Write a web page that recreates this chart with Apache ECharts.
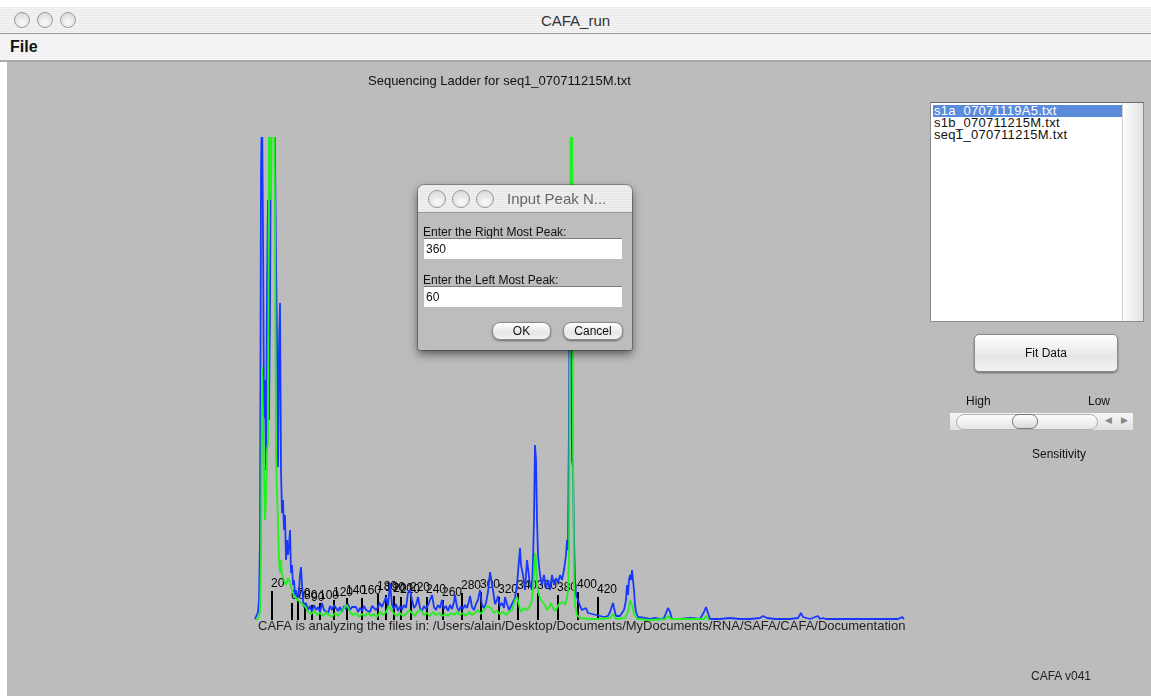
<!DOCTYPE html>
<html>
<head>
<meta charset="utf-8">
<title>CAFA_run</title>
<script src="https://cdn.jsdelivr.net/npm/echarts@6/dist/echarts.min.js"></script>
<style>
  body { margin: 0; width: 1151px; height: 696px; background: #fff; overflow: hidden; position: relative;
    font-family: "Liberation Sans", Arial, sans-serif; }
  .titlebar { position: absolute; left: 0; top: 7px; width: 1151px; height: 26px;
    background: repeating-linear-gradient(#eaeaea 0 1px, #f4f4f4 1px 2px); border-bottom: 1px solid #9c9c9c; }
  .titlebar .name { position: absolute; left: 0; width: 1151px; top: 5px; text-align: center; font-size: 15px; color: #333; }
  .dot { position: absolute; width: 14px; height: 14px; border-radius: 50%; border: 1px solid #9a9a9a;
    background: radial-gradient(circle at 50% 70%, #fafafa, #d4d4d4); }
  .menubar { position: absolute; left: 0; top: 34px; width: 1151px; height: 26px;
    background: repeating-linear-gradient(#efefef 0 1px, #f7f7f7 1px 2px); border-bottom: 2px solid #a8a8a8; }
  .menubar span { position: absolute; left: 10px; top: 4px; font-size: 16px; font-weight: bold; color: #111; }
  .pane { position: absolute; left: 7px; top: 62px; width: 1144px; height: 634px; background: #bcbcbc; }
  #chart { position: absolute; left: 0; top: 0; width: 1151px; height: 696px; z-index: 1; }
  .ui { position: absolute; z-index: 2; font-size: 12px; color: #111; }
  .list { left: 930px; top: 102px; width: 212px; height: 218px; background: #fff; border: 1px solid #8d8d8d; border-top-color: #6a6a6a; }
  .list .row { position: absolute; left: 2px; height: 12px; line-height: 12px; width: 189px; padding-left: 1px;
    font-size: 13px; letter-spacing: 0.3px; }
  .list .sel { background: #5b8bdb; color: #fff; }
  .list .scroll { position: absolute; right: 0; top: 0; width: 20px; height: 218px;
    background: linear-gradient(90deg, #fdfdfd, #e2e2e2); border-left: 1px solid #d0d0d0; }
  .btn { border: 1px solid #8a8a8a; border-radius: 5px; background: linear-gradient(#ffffff, #e6e6e6 60%, #f2f2f2);
    box-shadow: 0 1px 2px rgba(0,0,0,0.45); text-align: center; }
  .slider { left: 950px; top: 413px; width: 183px; height: 17px; background: linear-gradient(#f6f6f6, #e0e0e0); }
  .slider .track { position: absolute; left: 6px; top: 1px; width: 140px; height: 14px; border-radius: 8px;
    border: 1px solid #b0b0b0; background: linear-gradient(#fdfdfd, #e6e6e6); }
  .slider .knob { position: absolute; left: 62px; top: 1px; width: 24px; height: 13px; border-radius: 7px;
    border: 1px solid #777; background: linear-gradient(#fff, #d8d8d8); }
  .slider .arr { position: absolute; top: 2px; font-size: 9px; color: #888; }
  .dialog { left: 418px; top: 185px; width: 214px; height: 165px; background: #bdbdbd; border-radius: 6px 6px 2px 2px;
    box-shadow: 0 4px 10px rgba(0,0,0,0.55), 0 0 0 1px rgba(0,0,0,0.25); z-index: 3; }
  .dialog .dtitle { position: absolute; left: 0; top: 0; width: 214px; height: 27px; border-radius: 6px 6px 0 0;
    background: repeating-linear-gradient(#e6e6e6 0 1px, #f0f0f0 1px 2px); border-bottom: 1px solid #9a9a9a; }
  .dialog .dtitle span { position: absolute; left: 89px; top: 5px; font-size: 15px; color: #666; }
  .dialog .lab { position: absolute; left: 5px; font-size: 12px; }
  .dialog .field { position: absolute; left: 5px; width: 199px; height: 21px; background: #fff;
    border-top: 1px solid #7d7d7d; border-left: 1px solid #bbb; font-size: 12px; line-height: 20px; padding-left: 2px; box-sizing: border-box; }
  .dialog .btn { position: absolute; top: 137px; height: 16px; line-height: 16px; border-radius: 8px; font-size: 12px; }
</style>
</head>
<body>
<div class="titlebar">
  <div class="dot" style="left:14px;top:5px"></div>
  <div class="dot" style="left:37px;top:5px"></div>
  <div class="dot" style="left:60px;top:5px"></div>
  <div class="name">CAFA_run</div>
</div>
<div class="menubar"><span>File</span></div>
<div class="pane"></div>
<div id="chart"></div>

<div class="ui list">
  <div class="row sel" style="top:2px">s1a_07071119A5.txt</div>
  <div class="row" style="top:14px">s1b_070711215M.txt</div>
  <div class="row" style="top:26px">seq1_070711215M.txt</div>
  <div class="scroll"></div>
</div>
<div class="ui btn" style="left:974px;top:334px;width:142px;height:36px;line-height:36px">Fit Data</div>
<div class="ui" style="left:966px;top:394px">High</div>
<div class="ui" style="left:1088px;top:394px">Low</div>
<div class="ui slider">
  <div class="track"></div>
  <div class="knob"></div>
  <span class="arr" style="left:155px">&#9664;</span>
  <span class="arr" style="left:171px">&#9654;</span>
</div>
<div class="ui" style="left:1032px;top:447px">Sensitivity</div>
<div class="ui" style="left:1031px;top:669px;color:#222">CAFA v041</div>

<div class="ui dialog">
  <div class="dtitle">
    <div class="dot" style="left:10px;top:5px;width:16px;height:16px"></div>
    <div class="dot" style="left:34px;top:5px;width:16px;height:16px"></div>
    <div class="dot" style="left:58px;top:5px;width:16px;height:16px"></div>
    <span>Input Peak N...</span>
  </div>
  <div class="lab" style="top:40px">Enter the Right Most Peak:</div>
  <div class="field" style="top:53px">360</div>
  <div class="lab" style="top:88px">Enter the Left Most Peak:</div>
  <div class="field" style="top:101px">60</div>
  <div class="btn" style="left:74px;width:57px">OK</div>
  <div class="btn" style="left:145px;width:58px">Cancel</div>
</div>

<script>
// scan position, signal (blue channel)
const blueTrace = [
  [0,10],[2,30],[3,80],[4,200],[5,800],[6,4470],[7,5200],[8,3900],[9,2020],[10,2400],[11,1500],[12,3330],[13,4200],
  [14,2000],[15,3100],[16,5200],[17,5400],[18,5000],[19,5300],[20,4700],[21,3600],[22,2830],[23,1530],[24,2700],
  [25,3170],[26,1500],[27,1070],[28,1200],[29,900],[30,1050],[31,600],[32,800],[33,650],[34,750],[35,900],[36,470],
  [37,550],[38,350],[39,400],[40,250],[41,300],[42,200],[43,220],[44,300],[45,450],[46,530],[47,350],[48,200],[49,130],
  [51,170],[53,100],[55,140],[57,80],[59,150],[61,100],[63,130],[65,80],[67,170],[69,100],[71,120],[73,70],[75,140],
  [77,100],[79,150],[81,170],[83,90],[85,130],[87,80],[89,140],[91,110],[93,160],[95,100],[97,130],[99,150],[101,130],
  [103,80],[105,120],[107,90],[109,140],[111,100],[113,120],[115,80],[117,140],[119,160],[121,100],[123,130],[125,170],
  [127,130],[129,180],[131,230],[133,140],[135,370],[137,150],[139,110],[141,160],[143,90],[145,140],[147,100],[149,150],
  [151,120],[153,270],[155,300],[157,200],[159,120],[161,150],[163,230],[165,120],[167,90],[169,140],[171,110],[173,150],
  [175,200],[177,250],[179,130],[181,100],[183,150],[185,120],[187,200],[189,110],[191,140],[193,90],[195,150],[197,110],
  [199,180],[200,250],[202,130],[204,90],[206,140],[208,110],[210,150],[212,120],[214,190],[215,240],[217,130],[219,100],
  [221,160],[223,200],[225,300],[227,150],[229,120],[231,170],[233,280],[235,480],[236,500],[238,300],[240,160],[242,200],
  [243,240],[245,140],[247,170],[249,120],[250,230],[252,160],[254,100],[256,140],[258,180],[260,220],[262,350],[264,600],
  [265,720],[266,550],[268,450],[270,300],[272,600],[273,520],[275,350],[277,300],[278,600],[279,1000],[280,1750],
  [281,1600],[282,1000],[283,650],[285,450],[287,350],[289,450],[291,320],[293,400],[295,300],[297,450],[299,350],
  [301,420],[303,370],[305,450],[307,400],[309,500],[311,650],[312,800],[313,700],[314,2000],[315,4200],[316,3000],
  [317,1600],[318,1530],[319,800],[320,400],[321,250],[323,200],[325,140],[327,100],[329,80],[331,120],[333,70],[335,90],
  [337,60],[339,80],[341,50],[343,70],[345,40],[347,50],[349,30],[351,50],[353,40],[355,80],[357,140],[358,170],[359,120],
  [361,40],[363,30],[365,40],[367,60],[369,100],[371,200],[372,350],[373,250],[374,400],[375,450],[376,400],[377,500],
  [378,480],[379,300],[380,150],[381,80],[383,30],[385,10],[390,20],[395,10],[400,20],[405,10],[409,20],[411,70],
  [413,120],[415,80],[417,10],[425,10],[435,20],[445,10],[449,80],[451,130],[453,70],[455,10],[465,10],[475,20],[485,10],
  [495,10],[505,20],[508,40],[510,50],[512,20],[520,10],[535,10],[543,20],[546,70],[548,30],[555,10],[560,30],[563,40],
  [565,10],[568,20],[571,10],[585,10],[605,10],[625,10],[643,10],[647,30],[649,10]
];

// green channel
const greenTrace = [
  [0,0],[3,10],[5,80],[6,600],[7,2530],[8,2030],[9,1500],[10,1000],[11,1200],[12,1700],[13,1770],[14,5000],[15,5500],
  [16,4200],[17,5200],[18,5600],[19,5100],[20,4170],[21,1670],[22,1270],[23,1000],[24,600],[25,470],[26,600],[27,450],
  [29,400],[31,350],[33,420],[35,370],[37,300],[39,240],[41,260],[43,200],[45,220],[47,160],[50,140],[53,80],[56,60],
  [59,90],[62,50],[65,70],[68,40],[71,80],[74,50],[77,30],[80,70],[83,40],[86,80],[89,120],[92,150],[95,80],[98,50],
  [101,70],[104,30],[107,60],[110,40],[113,70],[116,40],[119,60],[122,30],[125,80],[128,50],[131,80],[134,140],[136,120],
  [139,60],[142,40],[145,70],[148,40],[151,60],[154,100],[157,70],[160,40],[163,90],[166,100],[169,50],[172,70],[175,40],
  [178,80],[181,50],[184,70],[187,40],[190,60],[193,40],[196,70],[199,50],[202,80],[205,50],[208,70],[211,40],[214,80],
  [217,50],[220,70],[223,100],[226,60],[229,100],[232,140],[234,160],[236,120],[239,70],[242,90],[245,60],[248,80],
  [251,50],[254,80],[257,100],[260,200],[262,230],[264,150],[266,80],[269,120],[272,100],[275,140],[277,200],[279,450],
  [280,670],[281,600],[282,350],[284,250],[286,200],[288,220],[290,150],[292,100],[294,130],[296,170],[298,120],[300,90],
  [302,120],[304,160],[306,140],[308,180],[310,150],[312,220],[313,300],[314,600],[315,3200],[316,6000],[317,5500],
  [318,1700],[319,400],[320,150],[322,50],[325,20],[335,10],[345,10],[355,20],[358,60],[361,10],[370,20],[373,80],
  [375,200],[377,150],[379,60],[382,10],[395,0],[410,10],[413,40],[416,10],[449,10],[451,40],[454,0]
];

// sizing ladder: peak positions, peak heights, base labels
const ladderPos = [17, 37, 43, 50, 57, 65, 79, 92, 107, 123, 131, 139, 146, 156, 172, 188, 207, 226, 244, 263, 283, 303, 323, 343];
const ladderHeight = [290, 170, 190, 170, 150, 170, 200, 220, 220, 260, 250, 240, 230, 250, 230, 200, 270, 280, 230, 270, 270, 250, 280, 230];
const ladderLabels = ['20', '60', '70', '80', '90', '100', '120', '140', '160', '180', '190', '200', '210', '220', '240', '260',
  '280', '300', '320', '340', '360', '380', '400', '420'];

const chartIns = echarts.init(document.getElementById('chart'));
const font = '"Liberation Sans", Arial, sans-serif';

const option = {
  animation: false,
  backgroundColor: 'transparent',
  title: {
    text: 'Sequencing Ladder for seq1_070711215M.txt',
    left: 368,
    top: 75,
    padding: 0,
    textStyle: { fontSize: 13, fontWeight: 'normal', color: '#111', fontFamily: font }
  },
  grid: { left: 255, top: 138, width: 650, height: 482 },
  xAxis: { type: 'value', min: 0, max: 650, show: false },
  yAxis: { type: 'value', min: 0, max: 4820, show: false },
  graphic: [{
    type: 'text',
    left: 258,
    top: 620,
    z: 100,
    style: {
      text: 'CAFA is analyzing the files in: /Users/alain/Desktop/Documents/MyDocuments/RNA/SAFA/CAFA/Documentation',
      font: '13px "Liberation Sans", Arial, sans-serif',
      fill: '#222'
    }
  }],
  series: [
    {
      type: 'line',
      data: blueTrace,
      showSymbol: false,
      lineStyle: { color: '#1838ff', width: 1.8 }
    },
    {
      type: 'line',
      data: greenTrace,
      showSymbol: false,
      lineStyle: { color: '#22f022', width: 1.8 }
    },
    {
      type: 'bar',
      barWidth: 2,
      itemStyle: { color: '#000' },
      data: ladderPos.map((p, i) => [p, ladderHeight[i]]),
      label: {
        show: true,
        position: 'top',
        align: 'left',
        distance: 1,
        offset: [-1, 0],
        fontSize: 12,
        fontFamily: font,
        color: '#000',
        formatter: p => ladderLabels[p.dataIndex]
      }
    }
  ]
};
chartIns.setOption(option);
</script>
</body>
</html>
